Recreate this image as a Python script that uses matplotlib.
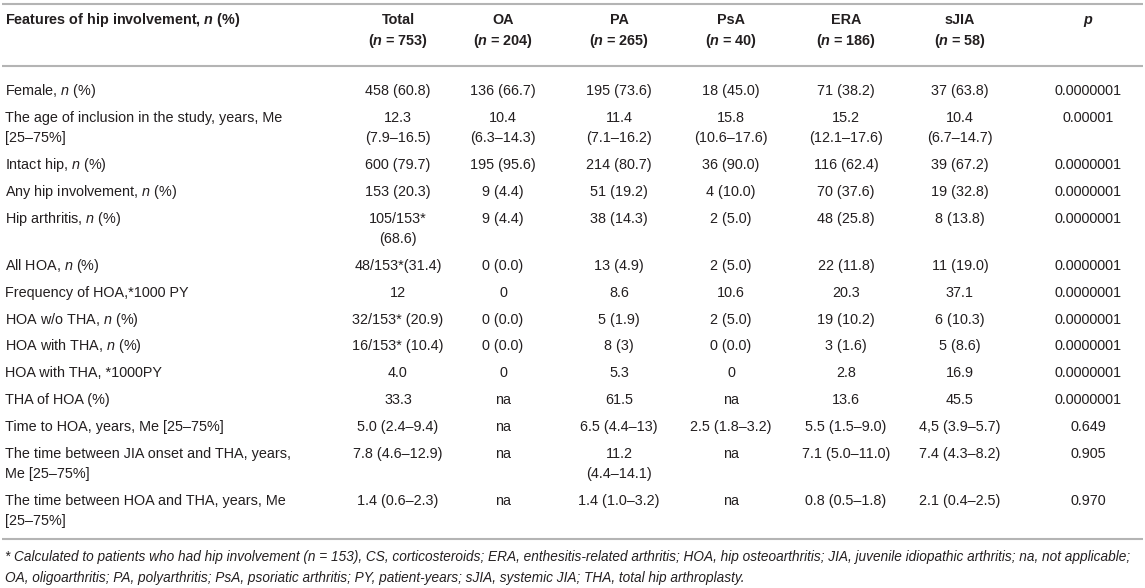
import matplotlib
matplotlib.use('Agg')
import matplotlib.pyplot as plt

plt.rcParams['font.family'] = ['Liberation Sans', 'DejaVu Sans']
plt.rcParams['mathtext.fontset'] = 'custom'
plt.rcParams['mathtext.rm'] = 'Liberation Sans'
plt.rcParams['mathtext.it'] = 'Liberation Sans:italic'
plt.rcParams['mathtext.bf'] = 'Liberation Sans:bold'
plt.rcParams['mathtext.bfit'] = 'Liberation Sans:bold:italic'

# Table data
header_label = r'Features of hip involvement, $\mathbfit{n}$ (%)'
groups = ['Total', 'OA', 'PA', 'PsA', 'ERA', 'sJIA']
group_n = [753, 204, 265, 40, 186, 58]

row_labels = [
    r'Female, $\mathit{n}$ (%)',
    'The age of inclusion in the study, years, Me\n[25–75%]',
    r'Intact hip, $\mathit{n}$ (%)',
    r'Any hip involvement, $\mathit{n}$ (%)',
    r'Hip arthritis, $\mathit{n}$ (%)',
    r'All HOA, $\mathit{n}$ (%)',
    'Frequency of HOA,*1000 PY',
    r'HOA w/o THA, $\mathit{n}$ (%)',
    r'HOA with THA, $\mathit{n}$ (%)',
    'HOA with THA, *1000PY',
    'THA of HOA (%)',
    'Time to HOA, years, Me [25–75%]',
    'The time between JIA onset and THA, years,\nMe [25–75%]',
    'The time between HOA and THA, years, Me\n[25–75%]',
]
total = ['458 (60.8)', '12.3\n(7.9–16.5)', '600 (79.7)', '153 (20.3)',
         '105/153*\n(68.6)', '48/153*(31.4)', '12', '32/153* (20.9)',
         '16/153* (10.4)', '4.0', '33.3', '5.0 (2.4–9.4)', '7.8 (4.6–12.9)',
         '1.4 (0.6–2.3)']
oa = ['136 (66.7)', '10.4\n(6.3–14.3)', '195 (95.6)', '9 (4.4)', '9 (4.4)',
      '0 (0.0)', '0', '0 (0.0)', '0 (0.0)', '0', 'na', 'na', 'na', 'na']
pa = ['195 (73.6)', '11.4\n(7.1–16.2)', '214 (80.7)', '51 (19.2)', '38 (14.3)',
      '13 (4.9)', '8.6', '5 (1.9)', '8 (3)', '5.3', '61.5', '6.5 (4.4–13)',
      '11.2\n(4.4–14.1)', '1.4 (1.0–3.2)']
psa = ['18 (45.0)', '15.8\n(10.6–17.6)', '36 (90.0)', '4 (10.0)', '2 (5.0)',
       '2 (5.0)', '10.6', '2 (5.0)', '0 (0.0)', '0', 'na', '2.5 (1.8–3.2)',
       'na', 'na']
era = ['71 (38.2)', '15.2\n(12.1–17.6)', '116 (62.4)', '70 (37.6)',
       '48 (25.8)', '22 (11.8)', '20.3', '19 (10.2)', '3 (1.6)', '2.8', '13.6',
       '5.5 (1.5–9.0)', '7.1 (5.0–11.0)', '0.8 (0.5–1.8)']
sjia = ['37 (63.8)', '10.4\n(6.7–14.7)', '39 (67.2)', '19 (32.8)', '8 (13.8)',
        '11 (19.0)', '37.1', '6 (10.3)', '5 (8.6)', '16.9', '45.5',
        '4,5 (3.9–5.7)', '7.4 (4.3–8.2)', '2.1 (0.4–2.5)']
p_values = ['0.0000001', '0.00001', '0.0000001', '0.0000001', '0.0000001',
            '0.0000001', '0.0000001', '0.0000001', '0.0000001', '0.0000001',
            '0.0000001', '0.649', '0.905', '0.970']

footnote = [
    '* Calculated to patients who had hip involvement (n = 153), CS, corticosteroids; '
    'ERA, enthesitis-related arthritis; HOA, hip osteoarthritis; JIA, juvenile '
    'idiopathic arthritis; na, not applicable;',
    'OA, oligoarthritis; PA, polyarthritis; PsA, psoriatic arthritis; PY, '
    'patient-years; sJIA, systemic JIA; THA, total hip arthroplasty.',
]

# Layout (pixels)
W, H = 1145, 588
col_x = [398, 503, 619, 731, 846, 960, 1088]
label_x = 5
row_pitch = 26.8
line_gap = 20.5
text_color = '#231f20'
rule_color = '#b4b4b4'
fs = 10.4


def put(ax, x, y, s, ha='left', **kw):
    # y is the visual middle of the line, shift to baseline
    ax.text(x, y + 5, s, ha=ha, va='baseline', fontsize=kw.pop('size', fs),
            color=text_color, **kw)


def main():
    fig = plt.figure(figsize=(W / 100, H / 100), dpi=100)
    ax = fig.add_axes([0, 0, 1, 1])
    ax.set_xlim(0, W)
    ax.set_ylim(H, 0)
    ax.axis('off')

    for yr in (4, 66, 539):
        ax.plot([2, W - 2], [yr, yr], color=rule_color, lw=1.5,
                solid_capstyle='butt')

    # header
    put(ax, label_x, 19, header_label, weight='bold')
    for x, g, n in zip(col_x, groups, group_n):
        put(ax, x, 19, g, ha='center', weight='bold')
        put(ax, x, 40, r'($\mathbfit{n}$ = %d)' % n, ha='center', weight='bold')
    put(ax, col_x[-1], 19, r'$\mathbfit{p}$', ha='center', weight='bold')

    # body
    cols = [total, oa, pa, psa, era, sjia, p_values]
    y = 90
    for i, label in enumerate(row_labels):
        cells = [label] + [c[i] for c in cols]
        nlines = 1
        for j, cell in enumerate(cells):
            parts = cell.split('\n')
            nlines = max(nlines, len(parts))
            for k, part in enumerate(parts):
                if j == 0:
                    put(ax, label_x, y + k * line_gap, part)
                else:
                    put(ax, col_x[j - 1], y + k * line_gap, part, ha='center')
        y += (nlines - 1) * line_gap + row_pitch

    # footnote, sized to span the table width
    fam = ['Liberation Sans Narrow', 'Liberation Sans']
    t1 = ax.text(label_x, 561, footnote[0], style='italic', fontsize=9,
                 family=fam, color=text_color, va='baseline')
    fig.canvas.draw()
    w = t1.get_window_extent().width
    size = 9 * (W - 12) / w
    t1.set_fontsize(size)
    ax.text(label_x, 582, footnote[1], style='italic', fontsize=size,
            family=fam, color=text_color, va='baseline')

    fig.savefig('out.png', dpi=100)


if __name__ == '__main__':
    main()
